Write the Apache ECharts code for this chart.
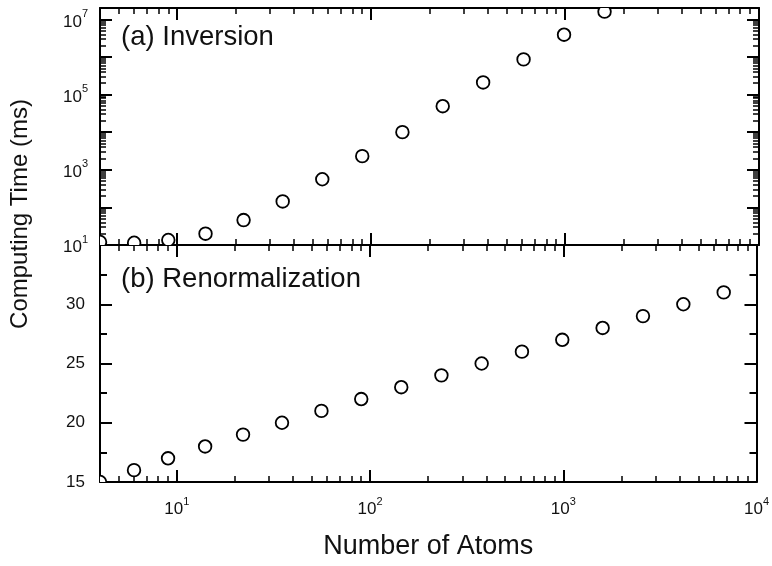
<!DOCTYPE html>
<html>
<head>
<meta charset="utf-8">
<script src="https://cdn.jsdelivr.net/npm/echarts@6/dist/echarts.min.js"></script>
<style>
html, body { margin: 0; padding: 0; background: #fff; }
#main { width: 772px; height: 566px; }
</style>
</head>
<body>
<div id="main"></div>
<script>
// number of atoms (x, shared by both panels)
var atoms = [4, 6, 9, 14, 22, 35, 56, 90, 145, 234, 378, 611, 988, 1598, 2585, 4182, 6766];
// (a) inversion, ms (log scale)
var inversionMs = [12, 11.5, 13.6, 20, 46, 144, 560, 2300, 10000, 49000, 210000, 860000, 3900000, 16000000];
// (b) renormalization, ms
var renormMs = [15, 16, 17, 18, 19, 20, 21, 22, 23, 24, 25, 26, 27, 28, 29, 30, 31];
// labelled powers of ten
var yPowLabels = [1, 3, 5, 7];
var xPowLabels = [1, 2, 3, 4];

var FONT = 'Liberation Sans, Arial, sans-serif';
var chart = echarts.init(document.getElementById('main'));

function pairs(xs, ys) {
	var out = [];
	for (var i = 0; i < ys.length; i++) out.push([xs[i], ys[i]]);
	return out;
}

function powLabel(list) {
	return function(v) {
		var n = Math.round(Math.log(v) / Math.LN10);
		if (Math.abs(Math.pow(10, n) - v) > 1e-6 * v) return '';
		if (list.indexOf(n) < 0) return '';
		return '{b|10}{s|' + n + '}';
	};
}

var richPow = {
	b: { fontSize: 17, fontFamily: FONT, color: '#111', lineHeight: 22, verticalAlign: 'bottom' },
	s: { fontSize: 11, fontFamily: FONT, color: '#111', lineHeight: 12, verticalAlign: 'top' }
};

var lineStyle = { color: '#000', width: 2 };
var majorTick = { show: true, inside: true, length: 12, lineStyle: { color: '#000', width: 2 } };
var minorTick = { show: true, splitNumber: 9, length: 6, lineStyle: { color: '#000', width: 1.5 } };

function logX(grid, pos, labels) {
	return {
		type: 'log', gridIndex: grid, position: pos, min: 4, max: 10000, logBase: 10,
		axisLine: { show: true, onZero: false, lineStyle: lineStyle },
		axisTick: majorTick,
		minorTick: minorTick,
		splitLine: { show: false },
		axisLabel: labels ? {
			show: true, margin: 14, formatter: powLabel(xPowLabels), rich: richPow,
			showMinLabel: true, showMaxLabel: true, hideOverlap: false
		} : { show: false }
	};
}

function logY(pos, labels) {
	return {
		type: 'log', gridIndex: 0, position: pos, min: 10, max: 20000000, logBase: 10,
		axisLine: { show: true, onZero: false, lineStyle: lineStyle },
		axisTick: majorTick,
		minorTick: minorTick,
		splitLine: { show: false },
		axisLabel: labels ? {
			show: true, margin: 12, formatter: powLabel(yPowLabels), rich: richPow,
			showMinLabel: true, hideOverlap: false
		} : { show: false }
	};
}

function linY(pos, labels) {
	return {
		type: 'value', gridIndex: 1, position: pos, min: 15, max: 35, interval: 5,
		axisLine: { show: true, onZero: false, lineStyle: lineStyle },
		axisTick: majorTick,
		minorTick: { show: true, splitNumber: 2, length: 7, lineStyle: { color: '#000', width: 2 } },
		splitLine: { show: false },
		axisLabel: labels ? {
			show: true, margin: 15, fontSize: 17, fontFamily: FONT, color: '#111',
			formatter: function(v) { return v >= 35 ? '' : String(v); }
		} : { show: false }
	};
}

// open circle, clipped to the panel like the original
function renderDot(params, api) {
	var p = api.coord([api.value(0), api.value(1)]);
	return {
		type: 'circle',
		shape: { cx: p[0], cy: p[1], r: 6.3 },
		style: { fill: '#fff', stroke: '#000', lineWidth: 1.8 }
	};
}

var option = {
	backgroundColor: '#fff',
	animation: false,
	grid: [
		{ left: 100, right: 13, top: 8, height: 237 },
		{ left: 100, right: 13, top: 245, height: 237 }
	],
	xAxis: [
		logX(0, 'bottom', false),
		logX(0, 'top', false),
		Object.assign(logX(1, 'bottom', true), {
			name: 'Number of Atoms', nameLocation: 'middle', nameGap: 51,
			nameTextStyle: { fontSize: 27, fontFamily: FONT, color: '#111' }
		}),
		logX(1, 'top', false)
	],
	yAxis: [
		logY('left', true),
		logY('right', false),
		linY('left', true),
		linY('right', false)
	],
	graphic: [
		{ type: 'text', left: 121, top: 23, style: { text: '(a) Inversion', font: '27.5px ' + FONT, fill: '#111' } },
		{ type: 'text', left: 121, top: 265, style: { text: '(b) Renormalization', font: '27.5px ' + FONT, fill: '#111' } },
		{ type: 'text', x: 20, y: 214, rotation: Math.PI / 2,
			style: { text: 'Computing Time (ms)', font: '24px ' + FONT, fill: '#111', align: 'center', verticalAlign: 'middle' } }
	],
	series: [
		{ type: 'custom', name: 'Inversion', xAxisIndex: 0, yAxisIndex: 0, clip: true,
			renderItem: renderDot, encode: { x: 0, y: 1 }, data: pairs(atoms, inversionMs) },
		{ type: 'custom', name: 'Renormalization', xAxisIndex: 2, yAxisIndex: 2, clip: true,
			renderItem: renderDot, encode: { x: 0, y: 1 }, data: pairs(atoms, renormMs) }
	]
};

chart.setOption(option);
</script>
</body>
</html>
